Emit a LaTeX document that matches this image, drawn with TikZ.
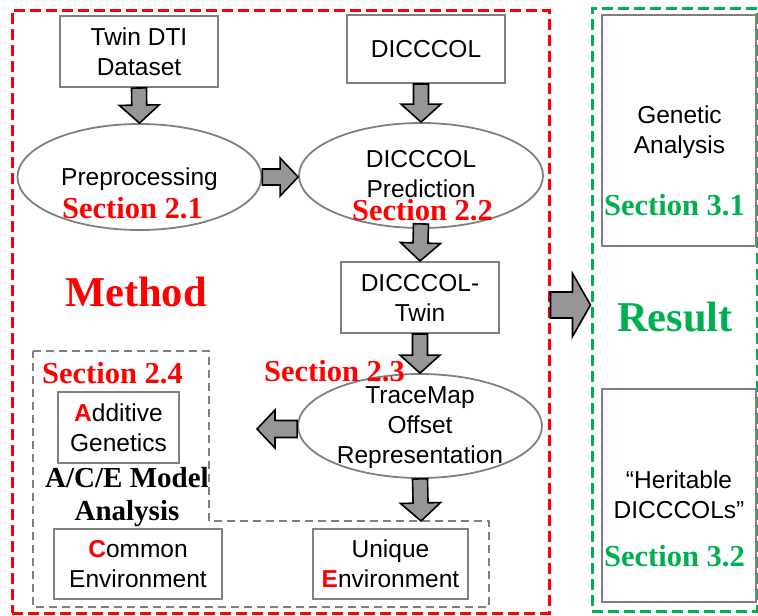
\documentclass[tikz,border=0pt]{standalone}
\usepackage{fontspec}
\setmainfont{Liberation Sans}
\newfontfamily\timesbf{Liberation Serif}
\usetikzlibrary{calc,shapes.geometric}
\definecolor{boxgray}{RGB}{128,128,128}
\definecolor{arrowgray}{RGB}{150,150,150}
\definecolor{resgreen}{RGB}{0,176,80}
\begin{document}
\begin{tikzpicture}[x=1pt,y=-1pt,
    box/.style={draw=boxgray,line width=2pt,inner sep=0pt,align=center,font=\fontsize{24.5}{30}\selectfont},
    oval/.style={ellipse,draw=boxgray,line width=1.8pt,inner sep=0pt},
    txt/.style={inner sep=0pt,align=center,font=\fontsize{24.5}{30}\selectfont},
    secred/.style={inner sep=0pt,anchor=base west,text=red,font=\timesbf\bfseries\fontsize{30.5}{34}\selectfont},
    bigword/.style={inner sep=0pt,anchor=base west,font=\timesbf\bfseries\fontsize{42.5}{46}\selectfont},
    dashframe/.style={draw,dash pattern=on 11pt off 5pt,line width=3pt,inner sep=0pt},
    blockarr/.style 2 args={draw=black,line width=1.6pt,fill=arrowgray,line join=miter,
      to path={($(\tikztostart)!#1!90:(\tikztotarget)$)
        -- ($(\tikztotarget)!18pt!(\tikztostart)!#1!90:(\tikztotarget)$)
        -- ($(\tikztotarget)!18pt!(\tikztostart)!#2!90:(\tikztotarget)$)
        -- (\tikztotarget)
        -- ($(\tikztotarget)!18pt!(\tikztostart)!#2!-90:(\tikztotarget)$)
        -- ($(\tikztotarget)!18pt!(\tikztostart)!#1!-90:(\tikztotarget)$)
        -- ($(\tikztostart)!#1!-90:(\tikztotarget)$) -- cycle}}]
  \useasboundingbox (0,0) rectangle (758,616);
  \node[dashframe,draw=red,minimum width=537pt,minimum height=603pt] (method) at (280.5,311.5) {};
  \node[dashframe,draw=resgreen,minimum width=165pt,minimum height=603pt] (result) at (674.5,309.5) {};
  \draw[boxgray,line width=1.8pt,dash pattern=on 8pt off 5pt] (33,351) -- (209,351) -- (209,521) -- (489,521) -- (489,607) -- (33,607) -- cycle;
  \node[box,minimum width=158pt,minimum height=71pt] (twin) at (139,51.5) {Twin DTI\\Dataset};
  \node[box,minimum width=158pt,minimum height=68pt] (dicccol) at (426,49) {DICCCOL};
  \node[oval,minimum width=244pt,minimum height=106pt] (prep) at (139.5,177) {};
  \node[txt] (preptxt) at (139.5,178.7) {Preprocessing};
  \node[oval,minimum width=244pt,minimum height=105pt] (pred) at (421,175.5) {};
  \node[txt] (predtxt) at (421,174) {DICCCOL\\Prediction};
  \node[box,minimum width=158pt,minimum height=71pt] (dtwin) at (420,297.5) {DICCCOL-\\Twin};
  \node[oval,minimum width=244pt,minimum height=104pt] (trace) at (420,426) {};
  \node[txt] (tracetxt) at (420,428) {TraceMap\\Offset\\Representation};
  \node[box,minimum width=121pt,minimum height=71pt] (add) at (118.5,427.5) {\textcolor{red}{\textbf{A}}dditive\\Genetics};
  \node[box,minimum width=168pt,minimum height=70pt] (common) at (138,564) {\textcolor{red}{\textbf{C}}ommon\\Environment};
  \node[box,minimum width=155pt,minimum height=70pt] (unique) at (390.5,564) {Unique\\\textcolor{red}{\textbf{E}}nvironment};
  \node[inner sep=0pt,align=center,font=\timesbf\bfseries\fontsize{29}{33}\selectfont] (ace) at (127,497) {A/C/E Model\\Analysis};
  \node[box,minimum width=154pt,minimum height=231pt] (genbox) at (679,130.5) {};
  \node[txt] (gentxt) at (679.5,131.7) {Genetic\\Analysis};
  \node[box,minimum width=154pt,minimum height=213pt] (herbox) at (679,495.5) {};
  \node[txt] (hertxt) at (679,495) {“Heritable\\DICCCOLs”};
  \coordinate (acetip) at (257,429);
  \coordinate (uetip) at (421,521);
  \draw[blockarr={7.5pt}{20pt}] (twin.south) to (prep.north);
  \draw[blockarr={7.5pt}{20pt}] (dicccol.south -| pred.north) to (pred.north);
  \draw[blockarr={8pt}{19pt}] (prep.east) to (prep.east -| pred.west);
  \draw[blockarr={7.5pt}{20pt}] ([yshift=5pt]pred.south) to (dtwin.north);
  \draw[blockarr={7.5pt}{20pt}] (dtwin.south) to (trace.north);
  \draw[blockarr={8.5pt}{19pt}] ([yshift=-3pt]trace.west) to (acetip);
  \draw[blockarr={7.5pt}{20pt}] (trace.south) to (uetip);
  \draw[blockarr={13pt}{31.5pt}] ([yshift=6.5pt]method.east) to ([yshift=4.5pt]result.west);
  \node[secred] (sec21) at (62,218) {Section 2.1};
  \node[secred] (sec22) at (352,220) {Section 2.2};
  \node[secred] (sec23) at (264,381) {Section 2.3};
  \node[secred] (sec24) at (42,383) {Section 2.4};
  \node[secred,text=resgreen] (sec31) at (604,215) {Section 3.1};
  \node[secred,text=resgreen] (sec32) at (604,566) {Section 3.2};
  \node[bigword,text=red] (methodlbl) at (65,306) {Method};
  \node[bigword,text=resgreen] (resultlbl) at (617,331) {Result};
\end{tikzpicture}
\end{document}
